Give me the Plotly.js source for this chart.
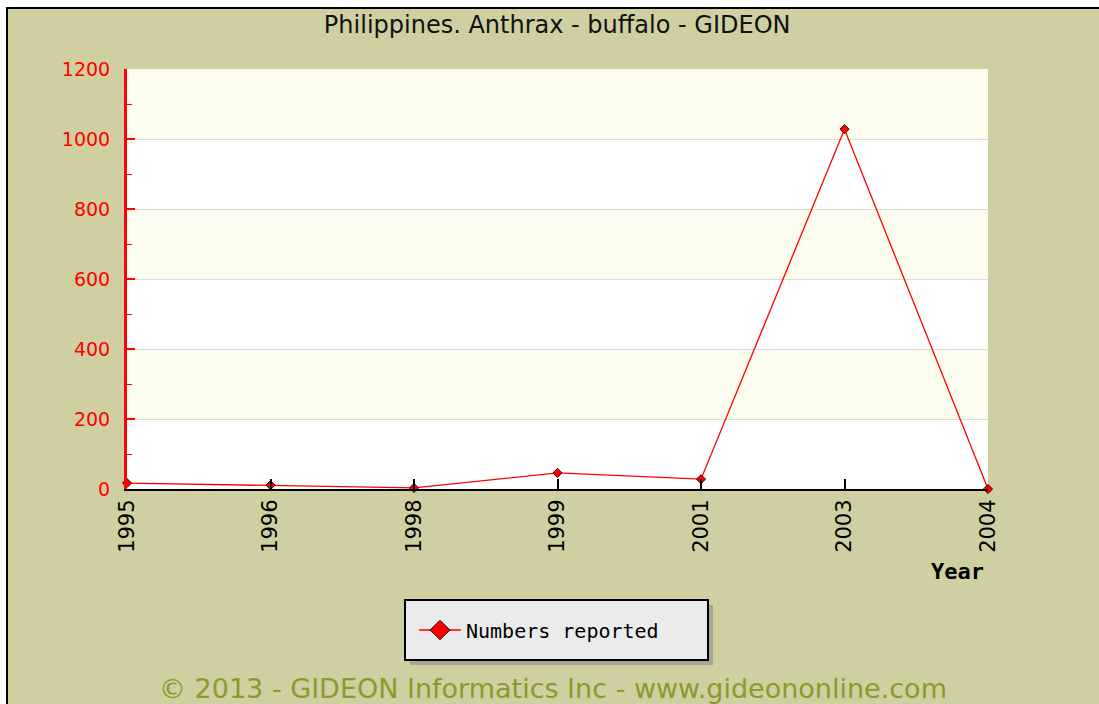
<!DOCTYPE html>
<html>
<head>
<meta charset="utf-8">
<script src="https://cdn.plot.ly/plotly-3.0.1.min.js"></script>
<style>
  html, body { margin: 0; padding: 0; background: #ffffff; width: 1099px; height: 704px; overflow: hidden; }
  #frame { position: absolute; left: 6px; top: 7px; width: 1200px; height: 800px; background: #cfcfa1; border: 2px solid #000; }
  #chart { position: absolute; left: 0; top: 0; width: 1099px; height: 704px; }
</style>
</head>
<body>
<div id="frame"></div>
<div id="chart"></div>
<script>
// Data
const years = ["1995", "1996", "1998", "1999", "2001", "2003", "2004"];
const numbersReported = [17, 11, 3, 46, 28, 1028, 0];
const yTicks = [0, 200, 400, 600, 800, 1000, 1200];
const seriesName = "Numbers reported";
const chartTitle = "Philippines. Anthrax - buffalo - GIDEON";
const footerText = "\u00a9 2013 - GIDEON Informatics Inc - www.gideononline.com";

// layout geometry
const L = 127, T = 69, R = 988, B = 489, W = 1099, H = 704;
const px2x = p => (p - L) / (R - L);
const px2y = p => (B - p) / (B - T);

const shapes = [];
// alternating bands
for (let i = 0; i < yTicks.length - 1; i++) {
  shapes.push({
    type: "rect", xref: "paper", yref: "y", layer: "below",
    x0: 0, x1: 1, y0: yTicks[i], y1: yTicks[i + 1],
    fillcolor: (i % 2 === 1) ? "#fdfdef" : "#ffffff", line: { width: 0 }
  });
}
// legend shadow and box
shapes.push({ type: "rect", xref: "paper", yref: "paper",
  x0: px2x(410), x1: px2x(713), y0: px2y(605), y1: px2y(665),
  fillcolor: "#a8a890", line: { width: 0 } });
shapes.push({ type: "rect", xref: "paper", yref: "paper",
  x0: px2x(405), x1: px2x(708), y0: px2y(600), y1: px2y(660),
  fillcolor: "#ebebeb", line: { color: "#000", width: 2 } });

const lineStyle = { color: "#ff0000", width: 1.3 };
const trace = {
  x: years, y: numbersReported, type: "scatter", mode: "lines+markers",
  name: seriesName, showlegend: false,
  line: lineStyle,
  marker: { symbol: "diamond", size: 7, color: "#ff0000", line: { color: "#400000", width: 1 } },
  cliponaxis: false
};
// legend entry for the same series (larger legend symbol, as in the original)
const legendEntry = {
  x: [null], y: [null], type: "scatter", mode: "lines+markers",
  name: seriesName, showlegend: true,
  line: lineStyle,
  marker: { symbol: "diamond", size: 15, color: "#ff0000", line: { color: "#300000", width: 1 } }
};

const layout = {
  width: W, height: H,
  margin: { l: L, r: W - R, t: T, b: H - B, pad: 0 },
  paper_bgcolor: "rgba(0,0,0,0)",
  plot_bgcolor: "#ffffff",
  title: { text: chartTitle, x: 0.507, xanchor: "center", y: 1 - 25 / H, yanchor: "middle",
    font: { family: "DejaVu Sans", size: 24, color: "#111" } },
  xaxis: {
    type: "category", categoryorder: "array", categoryarray: years,
    range: [0, years.length - 1], fixedrange: true,
    showgrid: false, zeroline: false,
    showline: true, linecolor: "#000", linewidth: 2,
    ticks: "inside", ticklen: 10, tickcolor: "#000", tickwidth: 2,
    tickangle: -90,
    tickfont: { family: "DejaVu Sans", size: 21, color: "#000" }
  },
  yaxis: {
    range: [0, 1200], tickvals: yTicks, ticktext: yTicks.map(String),
    showgrid: true, gridcolor: "#dcdcdc", gridwidth: 1, zeroline: false,
    showline: true, linecolor: "#ff0000", linewidth: 3,
    ticks: "inside", ticklen: 8, tickcolor: "#ff0000", tickwidth: 2,
    minor: { dtick: 100, ticks: "inside", ticklen: 5, tickcolor: "#ff0000", tickwidth: 1, showgrid: false },
    tickfont: { family: "DejaVu Sans", size: 19, color: "#ff0000" },
    ticklabelstandoff: 10
  },
  showlegend: true,
  legend: {
    x: px2x(414), xanchor: "left", y: px2y(630), yanchor: "middle",
    bgcolor: "rgba(0,0,0,0)", borderwidth: 0, itemwidth: 42,
    font: { family: "DejaVu Sans Mono", size: 20, color: "#000" }
  },
  shapes: shapes,
  annotations: [
    { text: "<b>Year</b>", xref: "paper", yref: "paper", x: px2x(957), y: px2y(571),
      xanchor: "center", yanchor: "middle", showarrow: false,
      font: { family: "DejaVu Sans Mono", size: 22, color: "#000" } },
    { text: footerText, xref: "paper", yref: "paper", x: px2x(553), y: px2y(688),
      xanchor: "center", yanchor: "middle", showarrow: false,
      font: { family: "DejaVu Sans", size: 27, color: "#8c9a2c" } }
  ]
};

Plotly.newPlot("chart", [trace, legendEntry], layout, { staticPlot: true, displayModeBar: false });
</script>
</body>
</html>
